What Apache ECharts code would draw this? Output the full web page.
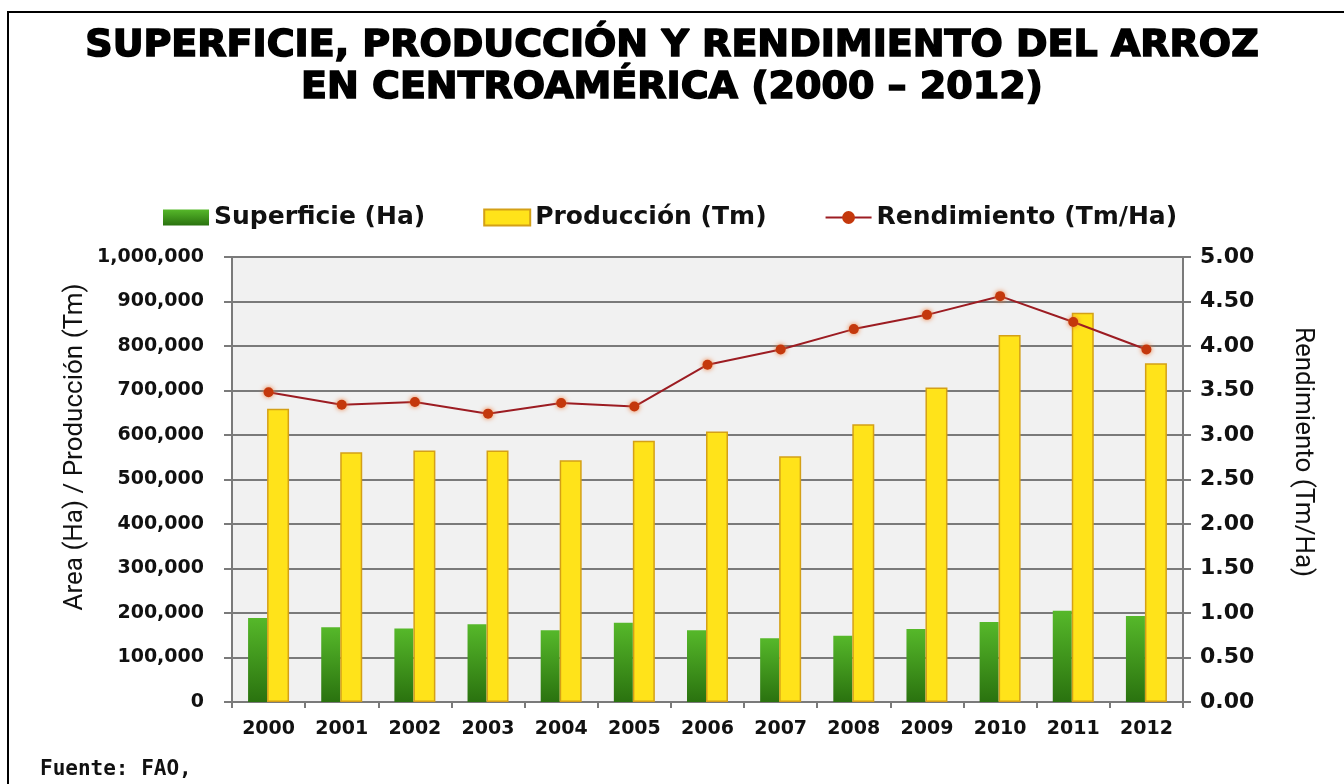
<!DOCTYPE html>
<html>
<head>
<meta charset="utf-8">
<script src="https://cdn.jsdelivr.net/npm/echarts@6/dist/echarts.min.js"></script>
<style>html,body{margin:0;padding:0;background:#fff;}#chart{width:1344px;height:784px;}</style>
</head>
<body>
<div id="chart"></div>
<script>
const years = ['2000','2001','2002','2003','2004','2005','2006','2007','2008','2009','2010','2011','2012'];
const superficie = [189000,168000,165000,175000,161000,178000,161000,143000,149000,164000,180000,205000,193000];
const produccion = [659000,561000,565000,565000,543000,587000,608000,552000,624000,707000,825000,875000,761000];
const rendimiento = [3.48,3.34,3.37,3.24,3.36,3.32,3.79,3.96,4.19,4.35,4.56,4.27,3.96];
const leftTicks = {min:0, max:1000000, interval:100000};
const rightTicks = {min:0, max:5, interval:0.5};
const leftName = 'Area (Ha) / Producción (Tm)';
const rightName = 'Rendimiento (Tm/Ha)';

const chart = echarts.init(document.getElementById('chart'));
const gray = '#7a7a7a';
chart.setOption({
  backgroundColor:'#ffffff',
  animation:false,
  title:{
    text:'SUPERFICIE, PRODUCCIÓN Y RENDIMIENTO DEL ARROZ\nEN CENTROAMÉRICA (2000 – 2012)',
    left:'center', top:20,
    textStyle:{fontFamily:'DejaVu Sans', fontWeight:'bold', fontSize:38, lineHeight:42, color:'#000',
      textBorderColor:'#000', textBorderWidth:1.6}
  },
  graphic:[
    {type:'rect', shape:{x:8,y:12,width:1400,height:800}, style:{fill:'none', stroke:'#000', lineWidth:2}, silent:true},
    {type:'text', left:40, top:759, style:{text:'Fuente: FAO,', font:'bold 21px "DejaVu Sans Mono"', fill:'#111'}},
    {type:'text', x:75, y:447, rotation:Math.PI/2,
     style:{text:leftName, font:'26px Roboto', fill:'#111', align:'center', verticalAlign:'middle'}},
    {type:'text', x:1302, y:452, rotation:-Math.PI/2,
     style:{text:rightName, font:'26px Roboto', fill:'#111', align:'center', verticalAlign:'middle'}}
  ],
  legend:{
    left:158, top:200, itemWidth:46, itemHeight:16, itemGap:58,
    textStyle:{fontFamily:'DejaVu Sans', fontWeight:'bold', fontSize:25, color:'#111'},
    data:[{name:'Superficie (Ha)', icon:'rect'},{name:'Producción (Tm)', icon:'rect'},{name:'Rendimiento (Tm/Ha)'}]
  },
  grid:{left:232, right:161, top:257, bottom:82, show:true, backgroundColor:'#f1f1f1', borderWidth:0, containLabel:false},
  xAxis:{
    type:'category', data:years,
    axisLine:{lineStyle:{color:gray, width:2}},
    axisTick:{show:true, length:6, lineStyle:{color:gray, width:2}},
    axisLabel:{fontFamily:'DejaVu Sans', fontWeight:'bold', fontSize:19, color:'#111', margin:18}
  },
  yAxis:[
    {type:'value', min:leftTicks.min, max:leftTicks.max, interval:leftTicks.interval,
     axisLine:{show:true, lineStyle:{color:gray, width:2}},
     axisTick:{show:true, length:8, lineStyle:{color:gray, width:2}},
     splitLine:{lineStyle:{color:gray, width:2}},
     axisLabel:{fontFamily:'DejaVu Sans', fontWeight:'bold', fontSize:19, color:'#111', margin:28,
       formatter:v=>v.toLocaleString('en-US')}
    },
    {type:'value', min:rightTicks.min, max:rightTicks.max, interval:rightTicks.interval, position:'right',
     axisLine:{show:true, lineStyle:{color:gray, width:2}},
     axisTick:{show:true, length:8, lineStyle:{color:gray, width:2}},
     splitLine:{show:false},
     axisLabel:{fontFamily:'DejaVu Sans', fontWeight:'bold', fontSize:22, color:'#111', margin:17,
       formatter:v=>v.toFixed(2)}
    }
  ],
  series:[
    {name:'Superficie (Ha)', type:'bar', data:superficie, barWidth:19, barGap:'0%',
     itemStyle:{color:new echarts.graphic.LinearGradient(0,0,0,1,[{offset:0,color:'#56b82a'},{offset:1,color:'#2a720f'}])}},
    {name:'Producción (Tm)', type:'bar', data:produccion, barWidth:22, barGap:'0%',
     itemStyle:{color:'#ffe31a', borderColor:'#d4a017', borderWidth:1.5}},
    {name:'Rendimiento (Tm/Ha)', type:'line', yAxisIndex:1, data:rendimiento,
     symbol:'circle', symbolSize:10,
     lineStyle:{color:'#9c1c22', width:2},
     itemStyle:{color:'#c4380c', shadowBlur:5, shadowColor:'#f07a3a'}}
  ]
});
</script>
</body>
</html>
